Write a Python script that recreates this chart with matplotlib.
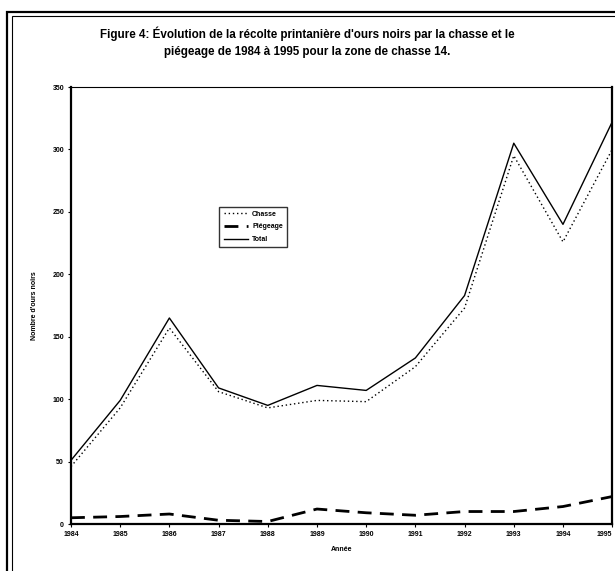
"""Figure 4: spring black bear harvest, hunting vs trapping, zone 14."""

import matplotlib
matplotlib.use("Agg")
import matplotlib.pyplot as plt
from matplotlib.patches import Rectangle

# Data
years = [1984, 1985, 1986, 1987, 1988, 1989, 1990, 1991, 1992, 1993, 1994, 1995]
chasse = [46, 93, 157, 106, 93, 99, 98, 126, 173, 295, 226, 300]
piegeage = [5, 6, 8, 3, 2, 12, 9, 7, 10, 10, 14, 22]
total = [51, 99, 165, 109, 95, 111, 107, 133, 183, 305, 240, 322]
y_ticks = [0, 50, 100, 150, 200, 250, 300, 350]

plt.rcParams['font.family'] = ['Liberation Sans', 'DejaVu Sans']

fig = plt.figure(figsize=(6.15, 5.71), dpi=100)
ax = fig.add_axes([0.1154, 0.0823, 0.880, 0.7653])

# Scanned double frame around the figure
fig.patches.append(Rectangle((7 / 615, -0.1), 1.2, 1.1 - 12 / 571,
                             transform=fig.transFigure, fill=False,
                             edgecolor='black', linewidth=1.6))
fig.patches.append(Rectangle((12 / 615, -0.1), 1.2, 1.1 - 16 / 571,
                             transform=fig.transFigure, fill=False,
                             edgecolor='black', linewidth=0.8))

ax.plot(years, chasse, color='black', linestyle=(0, (1, 2)), linewidth=1.0,
        label='Chasse')
ax.plot(years, piegeage, color='black', linestyle=(0, (5, 3)), linewidth=2.0,
        label='Piégeage')
ax.plot(years, total, color='black', linestyle='-', linewidth=1.0,
        label='Total')

ax.set_xlim(years[0], years[-1])
ax.set_ylim(0, 350)
ax.set_xticks(years)
ax.set_xticklabels([str(y) for y in years], fontsize=5, fontweight='bold')
ax.get_xticklabels()[-1].set_horizontalalignment('right')
ax.set_yticks(y_ticks)
ax.set_yticklabels([str(v) for v in y_ticks], fontsize=5, fontweight='bold')
ax.tick_params(length=2, width=0.8, pad=3)

for side in ['left', 'right', 'bottom']:
    ax.spines[side].set_linewidth(1.6)
ax.spines['top'].set_linewidth(0.8)

ax.set_xlabel('Année', fontsize=5, fontweight='bold', labelpad=6)
ax.set_ylabel("Nombre d'ours noirs", fontsize=5, fontweight='bold', labelpad=10)

fig.text(0.499, 0.926,
         "Figure 4: Évolution de la récolte printanière d'ours noirs par la chasse et le\n"
         "piégeage de 1984 à 1995 pour la zone de chasse 14.",
         ha='center', va='center', fontsize=8.4, fontweight='bold',
         linespacing=1.45)

leg = ax.legend(loc='upper left', bbox_to_anchor=(0.268, 0.734), fontsize=5,
                frameon=True, fancybox=False, handlelength=3.5,
                borderpad=0.6, labelspacing=0.8, handletextpad=0.6)
leg.get_frame().set_edgecolor('black')
leg.get_frame().set_linewidth(1.0)
for t in leg.get_texts():
    t.set_fontweight('bold')

fig.savefig('out.png', dpi=100)
